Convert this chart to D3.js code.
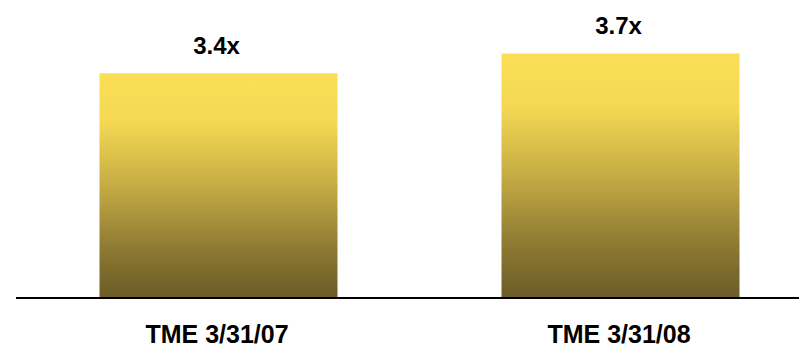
<!DOCTYPE html>
<html>
<head>
<meta charset="utf-8">
<script src="https://cdn.jsdelivr.net/npm/d3@7"></script>
<style>
  html, body { margin: 0; padding: 0; background: #fff; }
  svg { display: block; }
  text { font-family: Arial, "Liberation Sans", sans-serif; font-weight: bold; fill: #000; }
</style>
</head>
<body>
<svg id="chart" width="799" height="346"></svg>
<script>
// Coverage multiple by period
const categories = ["TME 3/31/07", "TME 3/31/08"];
const values = [3.4, 3.7];
const valueLabels = ["3.4x", "3.7x"];

const width = 799, height = 346;
const baseY = 297;
const svg = d3.select("#chart");

const x = d3.scaleBand()
  .domain(categories)
  .range([-1, 840])
  .paddingInner(0.408)
  .paddingOuter(0.25);

const y = d3.scaleLinear()
  .domain([0, 3.7])
  .range([baseY, 53.5]);

// Vertical gold-to-olive fill for each bar
const defs = svg.append("defs");
const grad = defs.append("linearGradient")
  .attr("id", "barFill")
  .attr("x1", 0).attr("y1", 0).attr("x2", 0).attr("y2", 1);
[
  [0, "#FADF56"],
  [0.22, "#F4D853"],
  [0.5, "#C6AC44"],
  [0.78, "#8E7A33"],
  [1, "#6C5C27"]
].forEach(([o, c]) => grad.append("stop").attr("offset", o).attr("stop-color", c));

svg.selectAll("rect.bar")
  .data(values)
  .join("rect")
  .attr("class", "bar")
  .attr("x", (d, i) => x(categories[i]))
  .attr("width", x.bandwidth())
  .attr("y", d => y(d))
  .attr("height", d => baseY - y(d))
  .attr("fill", "url(#barFill)");

// Value labels above bars
svg.selectAll("text.val")
  .data(values)
  .join("text")
  .attr("class", "val")
  .attr("x", (d, i) => x(categories[i]) + x.bandwidth() / 2 - 2)
  .attr("y", d => y(d) - 19.5)
  .attr("text-anchor", "middle")
  .attr("font-size", 24)
  .text((d, i) => valueLabels[i]);

// Category axis along the baseline
const axis = svg.append("g")
  .attr("transform", `translate(0,${baseY})`)
  .call(d3.axisBottom(x).tickSize(0).tickPadding(0));
axis.select(".domain").remove();
axis.append("line")
  .attr("x1", 16).attr("x2", width)
  .attr("y1", 1).attr("y2", 1)
  .attr("stroke", "#000")
  .attr("stroke-width", 2);
axis.selectAll(".tick text")
  .attr("y", 45.5)
  .attr("dy", 0)
  .attr("dx", -1.5)
  .attr("font-size", 25)
  .attr("font-family", "Arial, 'Liberation Sans', sans-serif")
  .attr("font-weight", "bold")
  .attr("fill", "#000");
</script>
</body>
</html>
